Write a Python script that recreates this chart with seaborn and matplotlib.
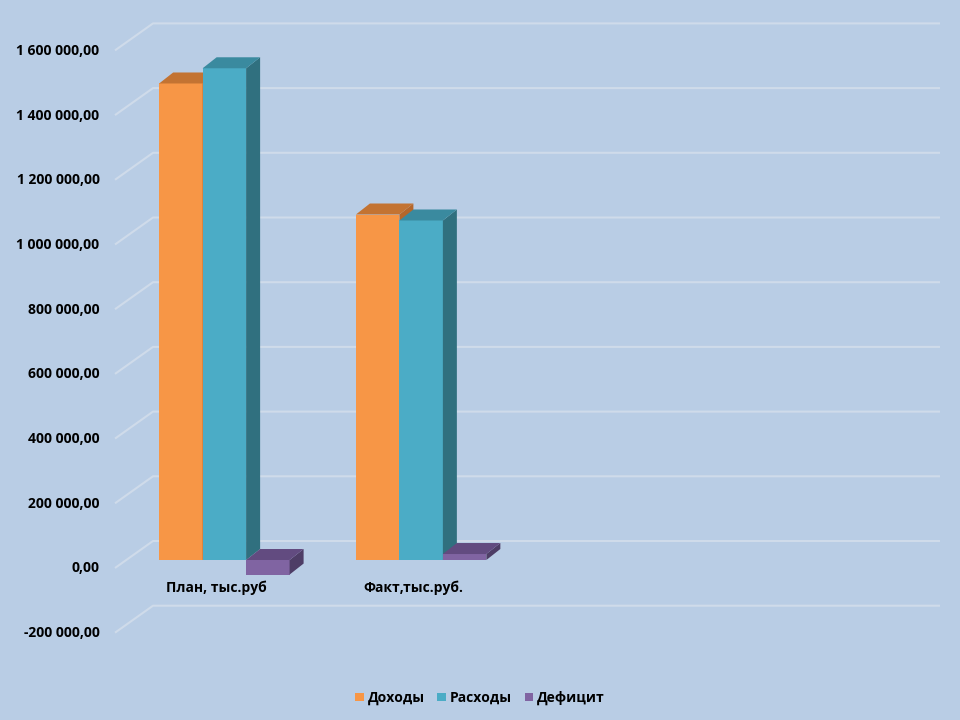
import matplotlib
matplotlib.use("Agg")
import matplotlib.pyplot as plt
import matplotlib.transforms as mtransforms
from matplotlib.patches import Polygon, Patch
import seaborn as sns
import pandas as pd

# ---------------- data ----------------
categories = ["План, тыс.руб", "Факт,тыс.руб."]
series = ["Доходы", "Расходы", "Дефицит"]
dohody = [1473000, 1068000]
rashody = [1520000, 1049500]
deficit = [-45000, 18500]
y_ticks = [-200000, 0, 200000, 400000, 600000, 800000, 1000000, 1200000, 1400000, 1600000]

rows = []
for i, c in enumerate(categories):
    rows.append((c, series[0], dohody[i]))
    rows.append((c, series[1], rashody[i]))
    rows.append((c, series[2], deficit[i]))
df = pd.DataFrame(rows, columns=["cat", "series", "value"])

# ---------------- style ----------------
BG = "#B9CDE5"
GRID = "#CFDBEA"
front_cols = ["#F79646", "#4BACC6", "#8064A2"]
top_cols = ["#C37332", "#3A8A9F", "#624B80"]
side_cols = ["#B5672B", "#30707F", "#4E3D66"]

sns.set_theme(style="white")
plt.rcParams["font.family"] = ["Open Sans", "DejaVu Sans"]
plt.rcParams["font.weight"] = "bold"
plt.rcParams["text.color"] = "black"

W, H = 960, 720
fig = plt.figure(figsize=(9.6, 7.2), dpi=100)
fig.patch.set_facecolor(BG)

# axes geometry in pixels (from top-left)
L, R, T, B = 126, 913, 15, 650
ZERO_PX = 560
PX_PER_STEP = 64.7  # pixels per 200 000
vpp = 200000 / PX_PER_STEP  # value per pixel
ax = fig.add_axes([L / W, 1 - B / H, (R - L) / W, (B - T) / H])
ax.set_facecolor("none")

sns.barplot(data=df, x="cat", y="value", hue="series", hue_order=series,
            order=categories, palette=front_cols, saturation=1, width=0.663,
            edgecolor="none", linewidth=0, ax=ax, errorbar=None, legend=True)

ax.set_xlim(-0.5, 3.5)
ax.set_ylim((ZERO_PX - B) * vpp, (ZERO_PX - T) * vpp)
xpp = 4.0 / (R - L)  # x data per pixel
ypp = vpp

# ---------- gridlines (3D walls) ----------
for v in y_ticks:
    xs = [-0.5 - 11 * xpp, -0.5 + 27 * xpp, 3.5 + 27 * xpp]
    ys = [v - 8 * ypp, v + 19 * ypp, v + 19 * ypp]
    ax.plot(xs, ys, color=GRID, lw=1.5, zorder=0.5, clip_on=False,
            solid_capstyle="butt")

# ---------- 3D bar faces ----------
DX, DY = 14 * xpp, 11 * ypp
for k, cont in enumerate(ax.containers):
    for bar in cont:
        z = 2 + k
        bar.set_zorder(z)
        x0 = bar.get_x()
        x1 = x0 + bar.get_width()
        ya = bar.get_y()
        yb = ya + bar.get_height()
        top, bot = max(ya, yb), min(ya, yb)
        topface = Polygon([(x0, top), (x1, top), (x1 + DX, top + DY), (x0 + DX, top + DY)],
                          closed=True, facecolor=top_cols[k], edgecolor="none", zorder=z + 0.1)
        side = Polygon([(x1, bot), (x1, top), (x1 + DX, top + DY), (x1 + DX, bot + DY)],
                       closed=True, facecolor=side_cols[k], edgecolor="none", zorder=z + 0.1)
        ax.add_patch(side)
        ax.add_patch(topface)

# ---------- axes text ----------
for s in ax.spines.values():
    s.set_visible(False)
ax.set_xlabel("")
ax.set_ylabel("")

def fmt(v):
    return f"{v:,.2f}".replace(",", " ").replace(".", ",")

FS = 10
ax.set_yticks(y_ticks)
ax.set_yticklabels([fmt(v) for v in y_ticks])
ax.tick_params(axis="y", length=0, pad=19, labelsize=FS, labelcolor="black")
yoff = mtransforms.ScaledTranslation(0, -7 / 100, fig.dpi_scale_trans)
for lab in ax.get_yticklabels():
    lab.set_transform(lab.get_transform() + yoff)
    lab.set_fontweight("bold")

ax.spines["bottom"].set_position(("data", 0))
ax.set_xticks(range(len(categories)))
ax.set_xticklabels(categories)
ax.tick_params(axis="x", length=0, pad=15, labelsize=FS, labelcolor="black")
xoff = mtransforms.ScaledTranslation(-8 / 100, 0, fig.dpi_scale_trans)
for lab in ax.get_xticklabels():
    lab.set_transform(lab.get_transform() + xoff)
    lab.set_fontweight("bold")

# ---------- legend ----------
leg = ax.get_legend()
if leg is not None:
    leg.remove()
handles = [Patch(facecolor=c, edgecolor="none") for c in front_cols]
lg = fig.legend(handles, series, loc="center", bbox_to_anchor=(0.5, 1 - 698 / H),
                ncol=3, frameon=False, handlelength=0.6, handleheight=0.6,
                handletextpad=0.3, columnspacing=0.9,
                prop={"size": FS, "weight": "bold"})
for t in lg.get_texts():
    t.set_color("black")

fig.savefig("out.png", dpi=100, facecolor=BG)
